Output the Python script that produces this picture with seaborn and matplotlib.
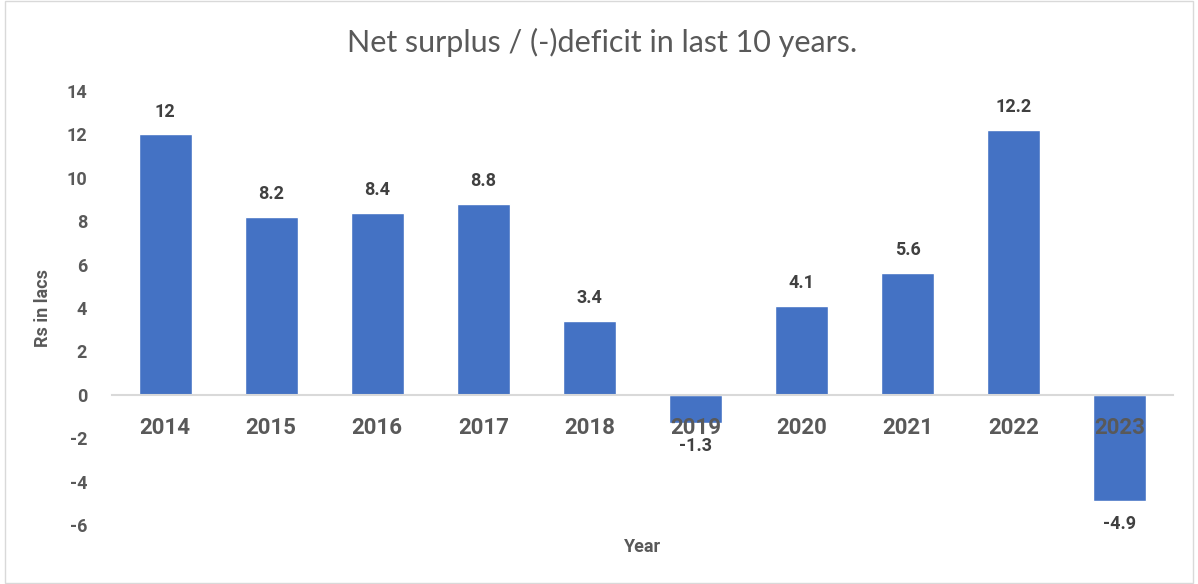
import matplotlib
matplotlib.use("Agg")
import matplotlib.pyplot as plt
import seaborn as sns
import pandas as pd

# chart data
years = ['2014', '2015', '2016', '2017', '2018', '2019', '2020', '2021', '2022', '2023']
surplus = [12, 8.2, 8.4, 8.8, 3.4, -1.3, 4.1, 5.6, 12.2, -4.9]
y_ticks = [-6, -4, -2, 0, 2, 4, 6, 8, 10, 12, 14]

df = pd.DataFrame({'Year': years, 'Surplus': surplus})

sns.set_style('white')
plt.rcParams['font.family'] = ['Roboto', 'DejaVu Sans']

grey = '#595959'

fig = plt.figure(figsize=(11.98, 5.84), dpi=100)
ax = fig.add_axes([0.0935, 0.101, 0.8855, 0.743])

sns.barplot(data=df, x='Year', y='Surplus', order=years, color='#4472C4',
            saturation=1, width=0.5, ax=ax)

ax.bar_label(ax.containers[0], fmt='%g', padding=10, fontsize=13,
             fontweight='bold', color='#404040')

ax.set_ylim(-6, 14)
ax.set_yticks(y_ticks)
ax.set_yticklabels([str(t) for t in y_ticks])
ax.set_xlim(-0.5, len(years) - 0.5)

for s in ['top', 'right', 'left']:
    ax.spines[s].set_visible(False)
ax.spines['bottom'].set_position(('data', 0))
ax.spines['bottom'].set_color('#D9D9D9')
ax.spines['bottom'].set_linewidth(1.5)
ax.xaxis.set_zorder(3)

ax.tick_params(axis='x', length=0, pad=16, labelsize=16, labelcolor=grey)
ax.tick_params(axis='y', length=0, pad=18, labelsize=13, labelcolor=grey)
for lbl in ax.get_xticklabels() + ax.get_yticklabels():
    lbl.set_fontweight('bold')

ax.set_xlabel('Year', fontsize=13, fontweight='bold', color=grey)
ax.xaxis.set_label_coords(0.5, -0.03)
ax.set_ylabel('Rs in lacs', fontsize=13, fontweight='bold', color=grey)
ax.yaxis.set_label_coords(-0.057, 0.5)

fig.text(0.503, 0.928, 'Net surplus / (-)deficit in last 10 years.', fontsize=22,
         color=grey, ha='center', va='center', family=['Lato', 'DejaVu Sans'])

# thin frame around the chart area
fig.patches.append(plt.Rectangle((0.004, 0.002), 0.992, 0.996, transform=fig.transFigure,
                                 fill=False, edgecolor='#D9D9D9', linewidth=1))

fig.savefig('out.png', dpi=100, facecolor='white')
